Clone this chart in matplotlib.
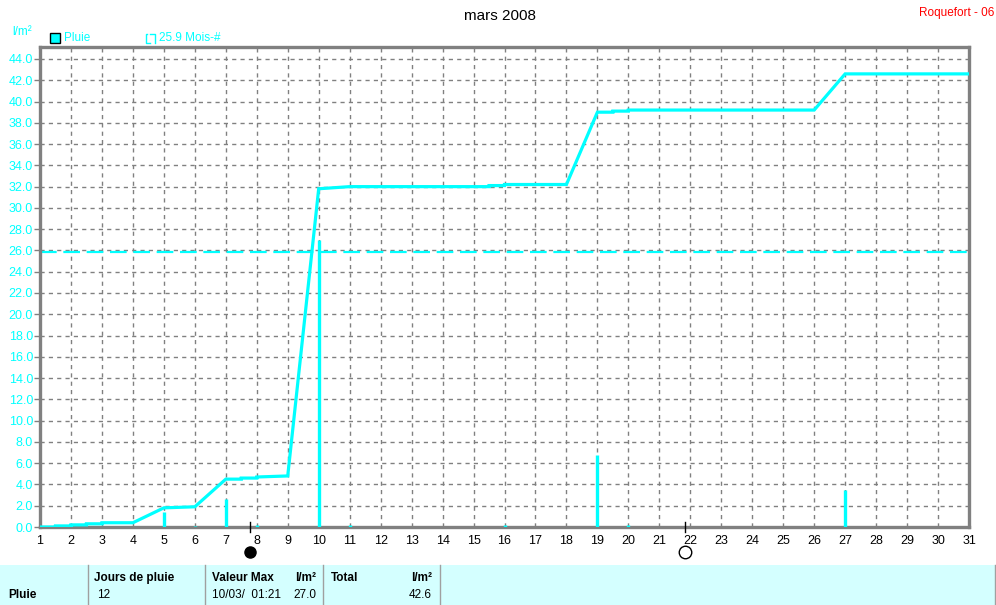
import matplotlib
matplotlib.use("Agg")
import matplotlib.pyplot as plt
from matplotlib.patches import Rectangle
from matplotlib.lines import Line2D

plt.rcParams['font.family'] = ['Liberation Sans Narrow', 'Liberation Sans', 'DejaVu Sans']

# ---------------- data ----------------
title = "mars 2008"
station = "Roquefort - 06"
unit = "l/m²"

cum_days = [1, 1.5, 1.5, 2, 2, 2.5, 2.5, 3, 3, 4, 5, 6, 7, 7.5, 7.5, 8, 8, 9,
            10, 10.5, 11, 15.5, 15.5, 16, 16, 18, 19, 19.5, 19.5, 20, 20, 26, 27, 31]
cum_vals = [0.0, 0.0, 0.1, 0.1, 0.2, 0.2, 0.3, 0.3, 0.4, 0.4, 1.8, 1.9, 4.5, 4.5, 4.6, 4.6, 4.7, 4.8,
            31.8, 31.9, 32.0, 32.0, 32.1, 32.1, 32.2, 32.2, 39.0, 39.0, 39.1, 39.1, 39.2, 39.2, 42.6, 42.6]

bar_days = [5, 6, 7, 8, 10, 11, 16, 19, 20, 27]
bar_vals = [1.4, 0.1, 2.6, 0.2, 27.0, 0.2, 0.2, 6.8, 0.2, 3.5]

month_ref = 25.9
moon_new = 7.78
moon_full = 21.83

day_ticks = list(range(1, 32))
y_ticks = [i * 2.0 for i in range(23)]

# ---------------- figure ----------------
W, H = 996, 605
fig = plt.figure(figsize=(W / 100, H / 100), dpi=100)
fig.patch.set_facecolor('white')

def fx(px):
    return px / W

def fy(py):
    return 1 - py / H

L, R, T, B = 40, 969, 47, 527
ax = fig.add_axes([fx(L), fy(B), fx(R) - fx(L), fy(T) - fy(B)])
ax.set_xlim(1, 31)
ax.set_ylim(0, 44 + 12 / 10.64)

CY = '#00FFFF'
GR = '#808080'

# grid
for d in day_ticks[1:-1]:
    ax.axvline(d, color=GR, lw=1, ls=(0, (3, 3)), zorder=1)
for v in y_ticks[1:]:
    ax.axhline(v, color=GR, lw=1, ls=(0, (3, 3)), zorder=1)

# reference line
ax.axhline(month_ref, color=CY, lw=1.6, ls=(0, (7.5, 3)), zorder=2)

# daily bars
ax.vlines(bar_days, 0, bar_vals, color=CY, lw=2.4, zorder=3)

# cumulative line
ax.plot(cum_days, cum_vals, color=CY, lw=2.3, zorder=4, solid_joinstyle='miter')

for s in ax.spines.values():
    s.set_color(GR)
    s.set_linewidth(2.4)

ax.set_xticks(day_ticks)
ax.set_xticklabels([str(d) for d in day_ticks], fontsize=9, color='black')
ax.set_yticks(y_ticks)
ax.set_yticklabels([f"{v:.1f}" for v in y_ticks], fontsize=9, color=CY)
ax.tick_params(axis='x', length=0, pad=6)
ax.tick_params(axis='y', length=4, width=1, color=GR, pad=1)

# moon phases
ax.plot([moon_new, moon_new], [-0.8 * 44 / 468 * 6, 0.5], color='black', lw=1, clip_on=False, zorder=5)
ax.plot([moon_full, moon_full], [-0.8 * 44 / 468 * 6, 0.5], color='black', lw=1, clip_on=False, zorder=5)
ax.plot([moon_new], [-25 * 44 / 468], marker='o', ms=8, mfc='black', mec='black', clip_on=False)
ax.plot([moon_full], [-25 * 44 / 468], marker='o', ms=9, mfc='white', mec='black', mew=1, clip_on=False)

# titles
fig.text(fx(500), fy(16), title, ha='center', va='center', fontsize=11)
fig.text(fx(994), fy(13), station, ha='right', va='center', fontsize=8.5, color='#FF0000')
fig.text(fx(12), fy(32), "l/m²", ha='left', va='center', fontsize=8.5, color=CY)

# legend
fig.patches.append(Rectangle((fx(50), fy(43)), fx(10), fy(33) - fy(43), transform=fig.transFigure,
                             facecolor=CY, edgecolor='black', lw=1))
fig.text(fx(64), fy(38), "Pluie", ha='left', va='center', fontsize=8.5, color=CY)
fig.lines.append(Line2D([fx(147), fx(146), fx(146), fx(150)], [fy(34), fy(34), fy(43), fy(43)],
                        transform=fig.transFigure, color=CY, lw=1))
fig.lines.append(Line2D([fx(150), fx(155), fx(155)], [fy(34), fy(34), fy(43)],
                        transform=fig.transFigure, color=CY, lw=1))
fig.text(fx(159), fy(38), f"{month_ref} Mois-#", ha='left', va='center', fontsize=8.5, color=CY)

# bottom table
fig.patches.append(Rectangle((0, 0), 1, fy(565), transform=fig.transFigure,
                             facecolor='#D4FFFF', edgecolor='none'))
for xs in [88, 205, 323, 440]:
    fig.lines.append(Line2D([fx(xs), fx(xs)], [0, fy(565)], transform=fig.transFigure, color='#A0A0A0', lw=1))
fig.lines.append(Line2D([fx(995), fx(995)], [0, fy(565)], transform=fig.transFigure, color='#A0A0A0', lw=1))

def t(x, y, s, bold=False, ha='left'):
    fig.text(fx(x), fy(y), s, ha=ha, va='center', fontsize=8.5,
             fontweight='bold' if bold else 'normal', color='black')

t(8, 595, "Pluie", bold=True)
t(94, 578, "Jours de pluie", bold=True)
t(97, 595, "12")
t(212, 578, "Valeur Max", bold=True)
t(316, 578, "l/m²", bold=True, ha='right')
t(212, 595, "10/03/  01:21")
t(316, 595, "27.0", ha='right')
t(331, 578, "Total", bold=True)
t(432, 578, "l/m²", bold=True, ha='right')
t(432, 595, "42.6", ha='right')

fig.savefig("out.png", dpi=100)
